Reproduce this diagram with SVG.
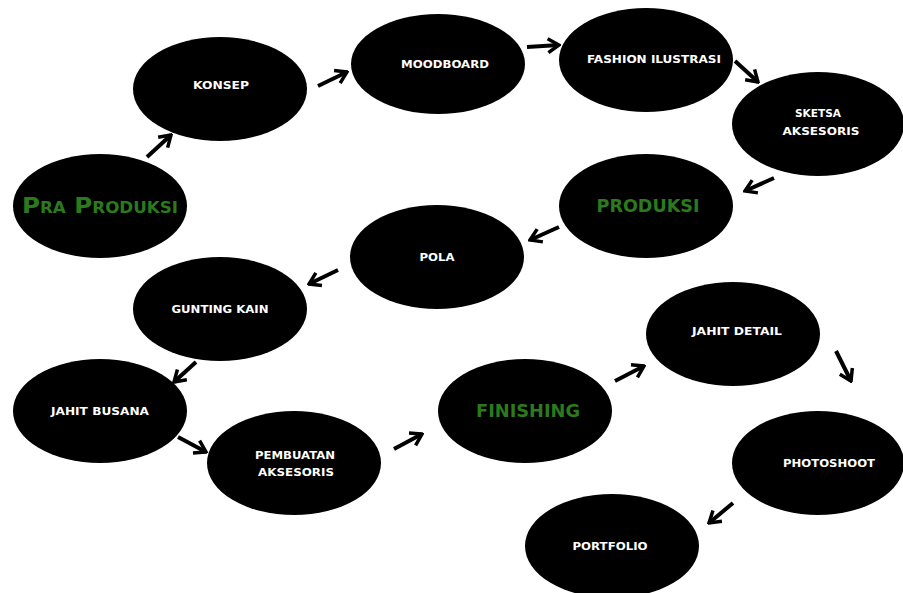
<svg xmlns="http://www.w3.org/2000/svg" width="903" height="593" viewBox="0 0 903 593">
<defs>
<style>
.n{fill:#000}
.t{fill:#fff;font-family:"DejaVu Sans",sans-serif;font-weight:bold;font-size:11px;text-anchor:middle}
.g{fill:#2b7a1c;font-family:"DejaVu Sans",sans-serif;font-weight:bold;font-size:17px;text-anchor:middle}
.c line{stroke:#000;stroke-width:4;marker-end:url(#ah)}
</style>
<marker id="ah" markerUnits="userSpaceOnUse" viewBox="-14 -9 16 18" refX="0" refY="0" markerWidth="16" markerHeight="18" orient="auto">
<path d="M-11,-7 L0,0 L-11,7" fill="none" stroke="#000" stroke-width="3.5" stroke-linejoin="miter"/>
</marker>
</defs>
<rect width="903" height="593" fill="#fff"/>
<g id="pra"><ellipse class="n" cx="100" cy="206" rx="87" ry="52"/><text class="g" x="100" y="213" font-size="22" style="font-size:22px;font-variant:small-caps" textLength="156" lengthAdjust="spacingAndGlyphs">Pra Produksi</text></g>
<g id="konsep"><ellipse class="n" cx="220" cy="89" rx="87" ry="52"/><text class="t" x="221" y="89" textLength="56" lengthAdjust="spacingAndGlyphs">KONSEP</text></g>
<g id="moodboard"><ellipse class="n" cx="438" cy="64" rx="87" ry="50"/><text class="t" x="445" y="68" textLength="88" lengthAdjust="spacingAndGlyphs">MOODBOARD</text></g>
<g id="fashion"><ellipse class="n" cx="646" cy="60" rx="87" ry="52"/><text class="t" x="654" y="63" textLength="134" lengthAdjust="spacingAndGlyphs">FASHION ILUSTRASI</text></g>
<g id="sketsa"><ellipse class="n" cx="818" cy="124" rx="86" ry="52"/><text class="t" x="818" y="117" textLength="46" lengthAdjust="spacingAndGlyphs">SKETSA</text><text class="t" x="821" y="135" textLength="77" lengthAdjust="spacingAndGlyphs">AKSESORIS</text></g>
<g id="produksi"><ellipse class="n" cx="646" cy="206" rx="87" ry="52"/><text class="g" x="648" y="212" textLength="103" lengthAdjust="spacingAndGlyphs">PRODUKSI</text></g>
<g id="pola"><ellipse class="n" cx="437" cy="257" rx="87" ry="52"/><text class="t" x="437" y="261" textLength="35" lengthAdjust="spacingAndGlyphs">POLA</text></g>
<g id="gunting"><ellipse class="n" cx="220" cy="309" rx="87" ry="52"/><text class="t" x="220" y="313" textLength="97" lengthAdjust="spacingAndGlyphs">GUNTING KAIN</text></g>
<g id="jahitbusana"><ellipse class="n" cx="100" cy="411" rx="87" ry="52"/><text class="t" x="100" y="415" textLength="98" lengthAdjust="spacingAndGlyphs">JAHIT BUSANA</text></g>
<g id="pembuatan"><ellipse class="n" cx="294" cy="463" rx="87" ry="52"/><text class="t" x="295" y="459" textLength="80" lengthAdjust="spacingAndGlyphs">PEMBUATAN</text><text class="t" x="296" y="476" textLength="76" lengthAdjust="spacingAndGlyphs">AKSESORIS</text></g>
<g id="finishing"><ellipse class="n" cx="525" cy="411" rx="87" ry="52"/><text class="g" x="528" y="417" textLength="104" lengthAdjust="spacingAndGlyphs">FINISHING</text></g>
<g id="jahitdetail"><ellipse class="n" cx="733" cy="334" rx="87" ry="52"/><text class="t" x="737" y="335" textLength="90" lengthAdjust="spacingAndGlyphs">JAHIT DETAIL</text></g>
<g id="photoshoot"><ellipse class="n" cx="818" cy="463" rx="86" ry="52"/><text class="t" x="829" y="467" textLength="92" lengthAdjust="spacingAndGlyphs">PHOTOSHOOT</text></g>
<g id="portfolio"><ellipse class="n" cx="612" cy="546" rx="87" ry="52"/><text class="t" x="610" y="550" textLength="75" lengthAdjust="spacingAndGlyphs">PORTFOLIO</text></g>
<g id="connectors" class="c">
<line x1="147" y1="157" x2="171" y2="135"/>
<line x1="318" y1="86" x2="347" y2="72"/>
<line x1="527" y1="47" x2="559" y2="45"/>
<line x1="735" y1="61" x2="758" y2="82"/>
<line x1="774" y1="178" x2="745" y2="191"/>
<line x1="559" y1="227" x2="530" y2="240"/>
<line x1="338" y1="270" x2="309" y2="284"/>
<line x1="196" y1="362" x2="174" y2="382"/>
<line x1="178" y1="437" x2="206" y2="452"/>
<line x1="394" y1="449" x2="422" y2="434"/>
<line x1="615" y1="381" x2="644" y2="366"/>
<line x1="836" y1="351" x2="851" y2="381"/>
<line x1="733" y1="503" x2="709" y2="523"/>
</g>
</svg>
